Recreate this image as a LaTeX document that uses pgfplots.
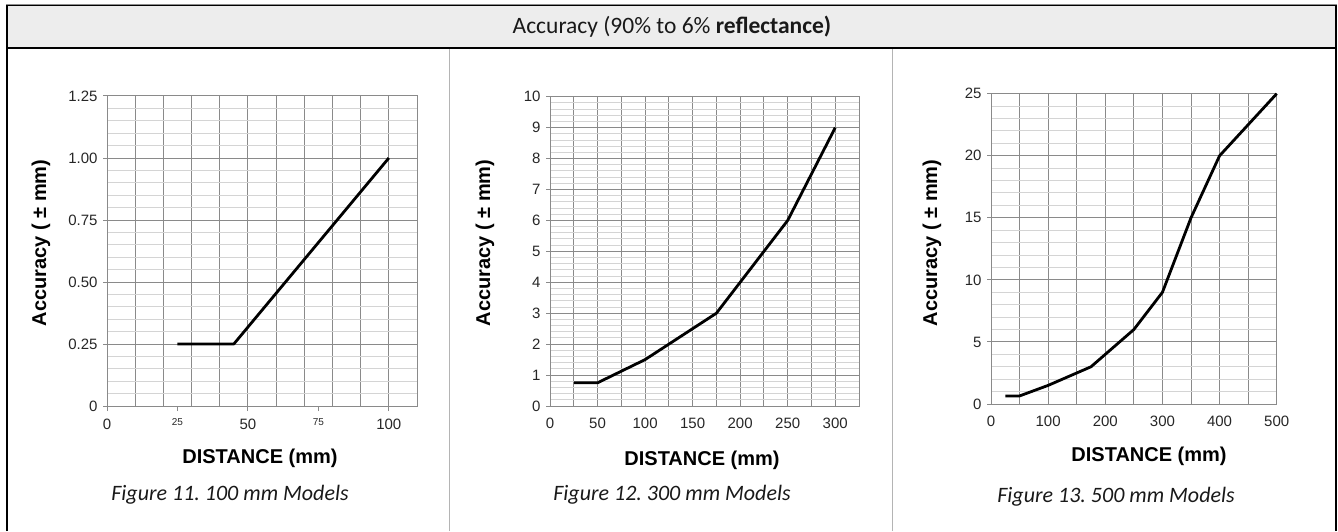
\documentclass[border=0pt]{standalone}
\usepackage{fontspec}
\setmainfont{Liberation Sans}
\newfontfamily\calfont{Carlito}
\usepackage{pgfplots}
\pgfplotsset{compat=1.18}
\definecolor{majgrid}{HTML}{8A8A8A}
\definecolor{mingrid}{HTML}{D4D4D4}
\definecolor{hdr}{HTML}{EDEDED}
\definecolor{divc}{HTML}{B4B4B4}
\frenchspacing
\pgfplotsset{
  panel/.style={
    scale only axis,
    anchor=south west,
    axis line style={majgrid, line width=1pt},
    grid=both,
    major grid style={majgrid, line width=1pt},
    minor grid style={mingrid, line width=1pt},
    tick style={majgrid, line width=1pt},
    tick align=outside,
    tick pos=left,
    major tick length=4pt,
    minor tick length=0pt,
    xtick style={draw=none},
    tick label style={font=\fontsize{15}{15}\selectfont, text=black!85},
    xticklabel style={yshift=-4pt},
    yticklabel style={xshift=-2pt},
    clip=false,
  },
  dataline/.style={black, line width=2.8pt, line join=round}
}
\begin{document}
\begin{tikzpicture}[x=1pt,y=1pt]
\useasboundingbox (0,0) rectangle (1338,531);
% frame and header
\draw[divc, line width=1pt] (449,0) -- (449,483);
\draw[divc, line width=1pt] (892,0) -- (892,483);
\draw[black!45, line width=1pt] (6,526.8) -- (1337,526.8);
\filldraw[fill=hdr, draw=black, line width=1.6pt] (7,483) rectangle (1336,525.5);
\draw[black, line width=2.2pt] (7,0) -- (7,525.5);
\draw[black, line width=2.6pt] (1336,0) -- (1336,525.5);
\node[font=\calfont\fontsize{23.5}{24}\selectfont, text=black!90] at (672,504)
  {Accuracy (90\% to 6\% \textbf{reflectance)}};

% Panel 1
\begin{axis}[panel, at={(107pt,125pt)}, width=310pt, height=310pt,
  xmin=0, xmax=110, ymin=0, ymax=1.25,
  xtick={0,10,...,110}, xticklabels={,,,,,,,,,,,,},
  ytick={0,0.25,0.5,0.75,1,1.25},
  yticklabels={0,0.25,0.50,0.75,1.00,1.25},
  minor y tick num=4,
  extra x ticks={0,25,50,75,100},
  extra x tick labels={0,{\fontsize{10}{10}\selectfont\raisebox{3pt}{25}},50,{\fontsize{10}{10}\selectfont\raisebox{3pt}{75}},100},
  extra x tick style={grid=none, xtick style={draw=majgrid}, major tick length=5pt},
]
\addplot[dataline] coordinates {(25,0.25) (45,0.25) (100,1.0)};
\end{axis}

% Panel 2
\begin{axis}[panel, at={(550pt,125pt)}, width=309pt, height=309.3pt,
  xmin=0, xmax=325, ymin=0, ymax=10,
  xtick={0,25,...,325}, xticklabels={0,,50,,100,,150,,200,,250,,300,},
  ytick={0,1,...,10},
  yticklabels={0,1,2,3,4,5,6,7,8,9,10},
  minor y tick num=4,
]
\addplot[dataline] coordinates {(25,0.75) (50,0.75) (100,1.5) (175,3) (250,6) (300,9)};
\end{axis}

% Panel 3
\begin{axis}[panel, at={(991pt,127pt)}, width=285.7pt, height=310.3pt,
  xmin=0, xmax=500, ymin=0, ymax=25,
  xtick={0,50,...,500}, xticklabels={0,,100,,200,,300,,400,,500},
  ytick={0,5,...,25},
  yticklabels={0,5,10,15,20,25},
  minor y tick num=4,
]
\addplot[dataline] coordinates {(25,0.65) (50,0.65) (100,1.5) (175,3) (250,6) (300,9) (350,15) (400,20) (500,25)};
\end{axis}

% axis labels
\node[rotate=90, font=\bfseries\fontsize{20}{20}\selectfont] at (41,288) {Accuracy ( ± mm)};
\node[rotate=90, font=\bfseries\fontsize{20}{20}\selectfont] at (485,288) {Accuracy ( ± mm)};
\node[rotate=90, font=\bfseries\fontsize{20}{20}\selectfont] at (932,288) {Accuracy ( ± mm)};
\node[font=\bfseries\fontsize{20}{20}\selectfont] at (260,73) {DISTANCE (mm)};
\node[font=\bfseries\fontsize{20}{20}\selectfont] at (702,71) {DISTANCE (mm)};
\node[font=\bfseries\fontsize{20}{20}\selectfont] at (1149,75) {DISTANCE (mm)};
% captions
\node[font=\calfont\itshape\fontsize{22}{22}\selectfont, text=black!90] at (230,36) {Figure 11. 100 mm Models};
\node[font=\calfont\itshape\fontsize{22}{22}\selectfont, text=black!90] at (672,36) {Figure 12. 300 mm Models};
\node[font=\calfont\itshape\fontsize{22}{22}\selectfont, text=black!90] at (1116,34) {Figure 13. 500 mm Models};
\end{tikzpicture}
\end{document}
